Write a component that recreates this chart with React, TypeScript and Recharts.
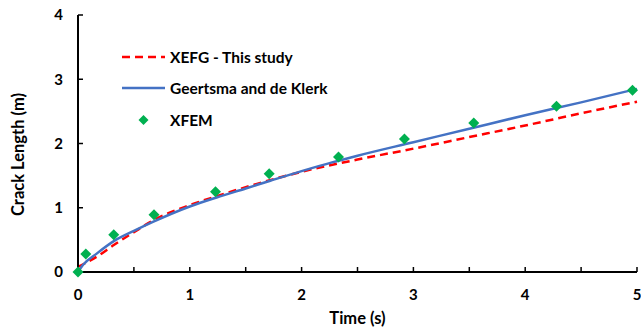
import { ComposedChart, Line, Scatter, XAxis, YAxis, Legend } from "recharts";

// Geertsma and de Klerk analytical curve
const gdkTime = [0, 0.05, 0.17, 0.32, 0.5, 0.67, 1, 1.24, 1.5, 1.72, 2, 2.28, 2.5, 3, 3.5, 4, 4.5, 5];
const gdkLength = [0, 0.12, 0.29, 0.48, 0.64, 0.78, 1.02, 1.16, 1.3, 1.42, 1.57, 1.71, 1.81, 2.02, 2.23, 2.44, 2.64, 2.85];

// XEFG - this study
const xefgTime = [0, 0.17, 0.32, 0.5, 0.67, 1, 1.24, 1.5, 2, 2.5, 3, 3.5, 4, 4.5, 5];
const xefgLength = [0.08, 0.24, 0.42, 0.62, 0.8, 1.04, 1.18, 1.32, 1.56, 1.75, 1.92, 2.1, 2.28, 2.47, 2.65];

// XFEM points
const xfemTime = [0, 0.07, 0.32, 0.68, 1.23, 1.71, 2.33, 2.92, 3.54, 4.28, 4.96];
const xfemLength = [0, 0.28, 0.58, 0.89, 1.25, 1.53, 1.79, 2.07, 2.32, 2.58, 2.83];

const xTicks = [0, 0.5, 1, 1.5, 2, 2.5, 3, 3.5, 4, 4.5, 5];
const yTicks = [0, 1, 2, 3, 4];

const FONT = "Lato, 'Liberation Sans', sans-serif";
const RED = "#FF0000";
const BLUE = "#4472C4";
const GREEN = "#00B050";

const toPoints = (xs: number[], ys: number[]) => xs.map((t, i) => ({ t, len: ys[i] }));

const gdkData = toPoints(gdkTime, gdkLength);
const xefgData = toPoints(xefgTime, xefgLength);
const xfemData = toPoints(xfemTime, xfemLength);

function XTick(props: any) {
  const { x, y, payload } = props;
  if (!Number.isInteger(payload.value)) return null;
  return (
    <text x={x} y={y} dy="0.71em" textAnchor="middle" fontFamily={FONT} fontWeight={700} fontSize={15} fill="#000">
      {payload.value}
    </text>
  );
}

function Diamond(props: any) {
  const { cx, cy } = props;
  const r = 5.5;
  return <polygon points={`${cx},${cy - r} ${cx + r},${cy} ${cx},${cy + r} ${cx - r},${cy}`} fill={GREEN} />;
}

function YTitle(props: any) {
  const vb = props.viewBox;
  const x = vb.x + 18;
  const y = vb.y + vb.height / 2 + 11;
  return (
    <text x={x} y={y} transform={`rotate(-90 ${x} ${y})`} textAnchor="middle" dominantBaseline="central"
      fontFamily={FONT} fontWeight={700} fontSize={16.5} fill="#000">
      Crack Length (m)
    </text>
  );
}

function LegendBox() {
  const row = { display: "flex", alignItems: "center", height: 31.5 } as const;
  const label = { fontFamily: FONT, fontWeight: 700, fontSize: 15.5, color: "#000", marginLeft: 5, whiteSpace: "nowrap" } as const;
  return (
    <div>
      <div style={row}>
        <svg width={43} height={10}><line x1={0} y1={5} x2={43} y2={5} stroke={RED} strokeWidth={2.5} strokeDasharray="8 5" /></svg>
        <span style={label}>XEFG - This study</span>
      </div>
      <div style={row}>
        <svg width={43} height={10}><line x1={0} y1={5} x2={43} y2={5} stroke={BLUE} strokeWidth={2.5} /></svg>
        <span style={label}>Geertsma and de Klerk</span>
      </div>
      <div style={row}>
        <svg width={43} height={12}><polygon points="21.5,1 26.5,6 21.5,11 16.5,6" fill={GREEN} /></svg>
        <span style={label}>XFEM</span>
      </div>
    </div>
  );
}

export default function App() {
  return (
    <div style={{ position: "absolute", left: 0, top: 0, width: 641, height: 332, background: "#fff" }}>
      <ComposedChart width={641} height={332} margin={{ top: 15, right: 4, left: 0, bottom: 0 }}>
        <XAxis
          dataKey="t"
          type="number"
          domain={[0, 5]}
          ticks={xTicks}
          interval={0}
          height={60}
          tickSize={-5}
          tickMargin={22}
          tick={<XTick />}
          axisLine={{ stroke: "#000", strokeWidth: 2 }}
          tickLine={{ stroke: "#000", strokeWidth: 1.5 }}
          allowDuplicatedCategory={false}
          label={{ value: "Time (s)", position: "insideBottom", offset: 8, fontFamily: FONT, fontWeight: 700, fontSize: 16.5, fill: "#000" }}
        />
        <YAxis
          dataKey="len"
          type="number"
          domain={[0, 4]}
          ticks={yTicks}
          interval={0}
          width={78}
          tickSize={-5}
          tickMargin={20}
          tick={{ fontFamily: FONT, fontWeight: 700, fontSize: 15, fill: "#000" }}
          axisLine={{ stroke: "#000", strokeWidth: 2 }}
          tickLine={{ stroke: "#000", strokeWidth: 1.5 }}
          label={{ content: <YTitle /> }}
        />
        <Legend
          layout="vertical"
          align="center"
          verticalAlign="middle"
          content={<LegendBox />}
          wrapperStyle={{ left: 122, top: 41, width: 260 }}
        />
        <Line data={xefgData} dataKey="len" type="monotone" stroke={RED} strokeWidth={2.5} strokeDasharray="8 5" dot={false} isAnimationActive={false} />
        <Line data={gdkData} dataKey="len" type="monotone" stroke={BLUE} strokeWidth={2.5} dot={false} isAnimationActive={false} />
        <Scatter data={xfemData} dataKey="len" shape={<Diamond />} isAnimationActive={false} />
      </ComposedChart>
    </div>
  );
}
